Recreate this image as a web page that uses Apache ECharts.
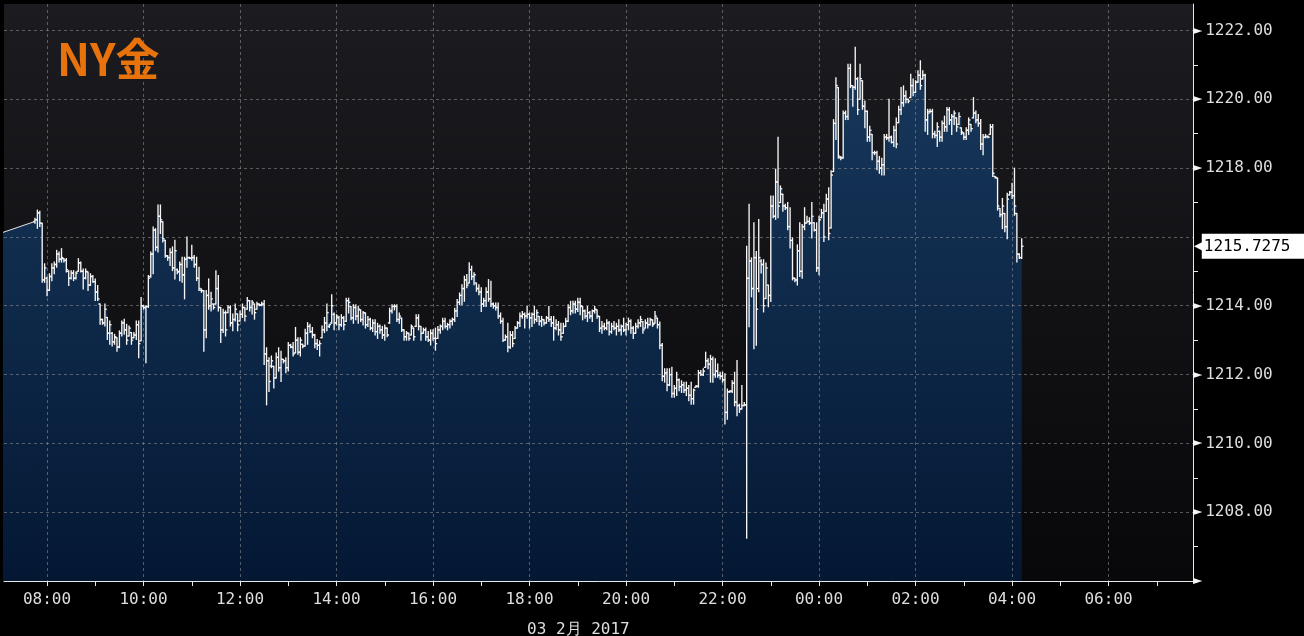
<!DOCTYPE html>
<html><head><meta charset="utf-8">
<script src="https://cdn.jsdelivr.net/npm/echarts/dist/echarts.min.js"></script>
<style>html,body{margin:0;padding:0;background:#000}#c{width:1304px;height:636px}</style>
</head><body><div id="c"></div>
<script>
const chartTitle = 'NY金';
const dateLabel = '03 2月 2017';
const firstBarMinute = 465;   // 07:45 on 02 Feb (minutes since 00:00)
const barStepMinutes = 3;
const prevPoint = [420, 1216.09];
const xLabelMinutes = [480,600,720,840,960,1080,1200,1320,1440,1560,1680,1800];
const xOddHourTicks = [540,660,780,900,1020,1140,1260,1380,1500,1620,1740,1860];
const yLabelValues = [1206,1208,1210,1212,1214,1216,1218,1220,1222];
const yMinorValues = [1207,1209,1211,1213,1215,1217,1219,1221];

const opens = [
1216.45,1216.50,1216.70,1216.40,1214.75,1214.80,1214.45,1214.85,1215.10,1215.20,
1215.50,1215.35,1215.37,1215.32,1215.00,1214.80,1214.95,1214.80,1215.00,1215.25,
1215.00,1214.80,1214.98,1214.60,1214.85,1214.70,1214.40,1214.05,1213.60,1213.50,
1213.66,1213.20,1213.20,1212.95,1213.07,1212.80,1213.20,1213.50,1213.30,1213.12,
1213.22,1213.07,1213.15,1213.45,1212.98,1214.00,1213.95,1213.98,1214.85,1215.50,
1216.20,1215.70,1216.60,1216.44,1215.90,1215.45,1215.40,1215.55,1215.10,1215.05,
1215.00,1215.20,1214.90,1215.35,1215.40,1215.38,1215.40,1215.20,1214.80,1214.45,
1214.44,1213.30,1214.30,1214.00,1214.05,1214.05,1214.50,1213.95,1213.30,1213.80,
1213.80,1213.95,1213.50,1213.60,1213.76,1213.56,1213.75,1213.95,1213.90,1214.15,
1213.95,1214.05,1213.90,1214.05,1214.02,1214.05,1212.60,1212.40,1212.25,1212.24,
1211.90,1212.50,1212.20,1212.44,1212.40,1212.20,1212.85,1212.80,1212.63,1213.00,
1212.65,1212.88,1212.83,1213.20,1213.40,1213.25,1213.15,1212.90,1212.85,1213.07,
1213.30,1213.50,1213.40,1213.50,1213.75,1213.50,1213.65,1213.45,1213.65,1213.55,
1214.15,1213.98,1213.65,1213.95,1213.70,1213.88,1213.60,1213.79,1213.45,1213.60,
1213.35,1213.50,1213.25,1213.40,1213.30,1213.15,1213.35,1213.50,1213.85,1213.98,
1213.98,1213.60,1213.64,1213.30,1213.10,1213.20,1213.15,1213.35,1213.40,1213.65,
1213.40,1213.20,1213.30,1213.10,1213.00,1213.20,1213.05,1213.05,1213.30,1213.40,
1213.55,1213.40,1213.45,1213.55,1213.60,1213.85,1214.10,1214.30,1214.50,1214.75,
1214.66,1215.05,1214.85,1214.66,1214.50,1214.40,1214.05,1214.15,1214.40,1214.20,
1214.05,1214.00,1213.95,1213.70,1213.55,1213.00,1213.10,1212.80,1213.15,1213.05,
1213.35,1213.50,1213.70,1213.75,1213.70,1213.75,1213.65,1213.75,1213.60,1213.69,
1213.55,1213.59,1213.50,1213.65,1213.60,1213.50,1213.35,1213.45,1213.30,1213.20,
1213.40,1213.55,1213.95,1213.85,1214.05,1213.90,1214.10,1213.98,1213.85,1213.70,
1213.80,1213.70,1213.85,1213.88,1213.69,1213.35,1213.40,1213.35,1213.50,1213.25,
1213.40,1213.35,1213.40,1213.30,1213.40,1213.30,1213.45,1213.55,1213.35,1213.20,
1213.40,1213.50,1213.54,1213.35,1213.50,1213.45,1213.59,1213.49,1213.64,1213.45,
1212.85,1211.95,1212.05,1211.70,1212.00,1211.45,1211.60,1211.85,1211.65,1211.70,
1211.55,1211.60,1211.40,1211.30,1211.63,1211.66,1212.05,1212.00,1212.21,1212.40,
1212.30,1212.45,1212.00,1212.10,1211.98,1211.95,1211.85,1210.90,1211.50,1211.52,
1211.75,1211.20,1211.10,1211.00,1211.10,1211.12,1214.80,1215.30,1214.50,1215.40,
1214.50,1215.30,1215.20,1214.21,1214.60,1214.30,1216.90,1216.60,1217.60,1217.00,
1217.24,1216.90,1216.85,1216.30,1215.90,1214.80,1214.75,1215.60,1215.00,1216.30,
1216.41,1216.45,1216.40,1216.41,1216.20,1215.10,1216.56,1216.70,1216.75,1217.10,
1216.26,1217.90,1219.30,1220.34,1218.30,1218.30,1219.60,1219.50,1220.90,1220.39,
1220.35,1220.60,1220.00,1220.54,1219.80,1219.65,1218.90,1218.98,1218.45,1218.45,
1218.20,1218.00,1218.10,1218.90,1218.88,1218.90,1218.75,1219.10,1219.32,1219.70,
1219.90,1220.10,1220.00,1220.05,1220.40,1220.20,1220.50,1220.70,1220.59,1220.70,
1219.40,1219.65,1219.65,1219.00,1218.95,1219.07,1218.90,1219.30,1219.20,1219.70,
1219.40,1219.50,1219.46,1219.27,1219.17,1219.02,1218.90,1219.10,1219.27,1219.46,
1219.60,1219.40,1219.30,1218.70,1218.90,1218.92,1218.98,1219.20,1217.76,1217.71,
1216.83,1216.65,1216.68,1216.30,1217.22,1217.30,1217.20,1216.68,1215.50,1215.40
];
const highs = [
1216.54,1216.78,1216.75,1216.40,1215.22,1214.83,1214.93,1215.22,1215.27,1215.61,
1215.56,1215.66,1215.37,1215.37,1215.02,1215.02,1215.02,1214.98,1215.37,1215.27,
1215.07,1215.07,1214.98,1214.93,1214.88,1214.78,1214.59,1214.05,1213.61,1214.05,
1213.66,1213.56,1213.22,1213.17,1213.07,1213.27,1213.56,1213.61,1213.46,1213.41,
1213.22,1213.22,1213.56,1213.56,1214.24,1214.00,1214.00,1214.88,1215.56,1216.29,
1216.24,1216.93,1216.93,1216.44,1215.90,1215.46,1215.66,1215.71,1215.90,1215.07,
1215.27,1215.41,1215.41,1216.00,1215.41,1215.76,1215.46,1215.41,1215.12,1214.49,
1214.44,1214.44,1214.78,1214.39,1214.05,1215.02,1214.88,1213.95,1213.90,1213.85,
1214.00,1214.00,1213.76,1214.05,1213.76,1213.85,1214.05,1213.95,1214.24,1214.15,
1214.15,1214.05,1214.10,1214.05,1214.10,1214.15,1212.78,1212.49,1212.54,1212.24,
1212.63,1212.78,1212.68,1212.44,1212.49,1212.93,1212.88,1212.93,1213.37,1213.07,
1213.07,1212.88,1213.32,1213.51,1213.46,1213.37,1213.17,1213.02,1212.98,1213.41,
1213.66,1214.05,1213.46,1214.32,1213.79,1213.74,1213.69,1213.74,1213.69,1214.22,
1214.22,1213.98,1214.03,1214.03,1213.98,1213.88,1213.83,1213.79,1213.69,1213.64,
1213.59,1213.59,1213.49,1213.44,1213.40,1213.44,1213.35,1213.93,1214.03,1214.03,
1214.03,1213.79,1213.64,1213.30,1213.25,1213.20,1213.44,1213.35,1213.74,1213.74,
1213.40,1213.35,1213.35,1213.25,1213.30,1213.30,1213.35,1213.40,1213.44,1213.64,
1213.64,1213.49,1213.59,1213.64,1213.93,1214.18,1214.37,1214.61,1214.86,1214.91,
1215.25,1215.15,1214.96,1214.66,1214.61,1214.52,1214.22,1214.52,1214.76,1214.71,
1214.08,1214.08,1214.08,1213.79,1213.64,1213.15,1213.49,1213.25,1213.25,1213.40,
1213.54,1213.79,1213.83,1213.79,1213.98,1213.79,1213.79,1213.98,1213.88,1213.69,
1213.69,1213.59,1213.69,1213.98,1213.69,1213.69,1213.59,1213.54,1213.49,1213.49,
1213.64,1214.03,1214.13,1214.13,1214.13,1214.22,1214.22,1213.98,1213.88,1213.98,
1213.83,1213.88,1213.98,1213.88,1213.69,1213.54,1213.49,1213.59,1213.54,1213.49,
1213.54,1213.49,1213.59,1213.44,1213.64,1213.49,1213.64,1213.59,1213.40,1213.49,
1213.59,1213.69,1213.54,1213.59,1213.64,1213.64,1213.59,1213.83,1213.64,1213.53,
1212.90,1212.17,1212.17,1212.17,1212.21,1211.68,1212.07,1211.87,1211.82,1211.78,
1211.78,1211.68,1211.78,1211.58,1211.68,1212.12,1212.12,1212.17,1212.65,1212.46,
1212.56,1212.51,1212.46,1212.31,1212.07,1212.07,1212.02,1211.58,1211.53,1211.82,
1212.07,1212.41,1211.14,1211.68,1211.19,1215.73,1216.95,1215.39,1216.41,1215.58,
1216.51,1215.34,1215.34,1215.24,1214.60,1217.19,1217.19,1217.97,1218.90,1217.48,
1217.24,1216.95,1217.00,1216.85,1215.97,1214.80,1215.77,1216.41,1216.36,1216.85,
1216.60,1216.56,1217.00,1216.41,1216.41,1216.60,1216.80,1216.95,1217.24,1217.43,
1217.92,1219.41,1220.63,1220.34,1218.34,1219.66,1219.66,1221.02,1221.02,1220.39,
1221.51,1220.63,1221.02,1220.54,1219.95,1219.66,1219.22,1218.98,1218.49,1218.49,
1218.34,1218.29,1218.98,1218.98,1220.00,1218.93,1219.22,1219.46,1219.80,1220.34,
1220.39,1220.24,1220.00,1220.73,1220.59,1220.54,1220.83,1221.12,1220.83,1220.73,
1219.71,1219.71,1219.71,1219.07,1219.32,1219.07,1219.37,1219.51,1219.76,1219.76,
1219.56,1219.66,1219.46,1219.61,1219.17,1219.02,1219.17,1219.46,1219.27,1220.05,
1219.66,1219.56,1219.41,1218.98,1218.98,1218.93,1219.27,1219.27,1217.76,1217.71,
1216.83,1217.12,1216.68,1217.27,1217.32,1217.56,1218.00,1216.68,1215.51,1215.95
];
const lows = [
1216.40,1216.25,1216.30,1214.68,1214.68,1214.29,1214.44,1214.73,1214.93,1215.12,
1215.27,1215.27,1215.27,1214.98,1214.59,1214.78,1214.73,1214.78,1215.00,1214.98,
1214.49,1214.78,1214.44,1214.59,1214.68,1214.15,1214.15,1213.46,1213.46,1213.41,
1213.02,1212.88,1212.83,1212.88,1212.68,1212.78,1213.12,1213.17,1212.88,1213.12,
1212.88,1213.07,1213.02,1212.49,1212.98,1213.90,1212.34,1213.95,1214.83,1214.93,
1215.61,1215.56,1216.10,1215.85,1215.41,1215.32,1215.17,1215.02,1214.78,1214.93,
1214.73,1214.68,1214.20,1215.12,1215.37,1215.32,1215.12,1214.73,1214.44,1214.39,
1212.68,1213.07,1213.90,1213.85,1213.90,1214.05,1213.85,1212.93,1213.22,1213.12,
1213.80,1213.41,1213.27,1213.56,1213.27,1213.56,1213.66,1213.56,1213.90,1213.85,
1213.76,1213.61,1213.90,1214.00,1214.00,1212.29,1211.12,1211.51,1212.20,1211.61,
1211.90,1212.10,1211.80,1212.34,1212.05,1212.10,1212.78,1212.54,1212.63,1212.59,
1212.54,1212.78,1212.83,1212.88,1213.22,1213.07,1212.78,1212.73,1212.54,1213.07,
1213.22,1213.27,1213.37,1213.49,1213.30,1213.44,1213.30,1213.40,1213.30,1213.54,
1213.79,1213.59,1213.49,1213.59,1213.49,1213.54,1213.44,1213.35,1213.40,1213.30,
1213.25,1213.15,1213.05,1213.20,1213.05,1213.00,1213.10,1213.49,1213.79,1213.88,
1213.54,1213.49,1213.25,1213.00,1213.00,1213.00,1213.15,1213.00,1213.40,1213.30,
1213.00,1213.20,1213.00,1212.96,1212.86,1213.00,1212.71,1213.05,1213.20,1213.30,
1213.35,1213.30,1213.35,1213.44,1213.54,1213.69,1214.03,1214.03,1214.13,1214.52,
1214.66,1214.76,1214.61,1214.42,1214.32,1213.83,1213.98,1213.98,1214.13,1213.98,
1213.93,1213.88,1213.64,1213.49,1212.96,1213.00,1212.66,1212.76,1212.81,1213.05,
1213.35,1213.40,1213.64,1213.35,1213.64,1213.35,1213.40,1213.49,1213.54,1213.44,
1213.40,1213.44,1213.49,1213.54,1213.40,1213.00,1213.30,1213.15,1213.00,1213.20,
1213.40,1213.54,1213.74,1213.79,1213.79,1213.83,1213.74,1213.59,1213.64,1213.54,
1213.64,1213.54,1213.79,1213.64,1213.25,1213.20,1213.30,1213.30,1213.15,1213.20,
1213.30,1213.15,1213.25,1213.15,1213.25,1213.15,1213.30,1213.20,1213.05,1213.20,
1213.35,1213.40,1213.20,1213.35,1213.35,1213.44,1213.40,1213.49,1213.35,1212.75,
1211.82,1211.78,1211.53,1211.68,1211.34,1211.34,1211.39,1211.53,1211.48,1211.48,
1211.39,1211.24,1211.14,1211.14,1211.63,1211.63,1211.97,1211.97,1212.21,1212.17,
1211.78,1211.78,1211.92,1211.92,1211.87,1211.78,1210.56,1210.70,1211.48,1211.48,
1211.09,1210.80,1210.90,1211.00,1211.09,1207.24,1213.39,1214.26,1212.75,1212.85,
1214.41,1214.95,1213.82,1214.21,1213.97,1214.12,1216.56,1216.51,1216.56,1217.00,
1216.75,1216.80,1216.21,1215.68,1214.75,1214.70,1214.60,1214.85,1214.80,1216.21,
1216.41,1216.36,1215.97,1216.17,1215.00,1214.90,1216.56,1215.87,1216.75,1215.92,
1216.26,1217.90,1218.83,1218.29,1218.24,1218.29,1219.41,1219.41,1220.34,1219.80,
1220.29,1219.56,1220.00,1219.71,1219.17,1218.78,1218.78,1218.24,1218.39,1217.95,
1217.85,1217.80,1217.80,1218.83,1218.78,1218.73,1218.63,1218.59,1219.32,1219.56,
1219.80,1219.90,1219.90,1220.05,1220.10,1220.20,1220.49,1220.29,1220.59,1219.07,
1218.98,1219.61,1218.88,1218.88,1218.63,1218.78,1218.78,1219.07,1219.07,1219.27,
1218.98,1219.27,1219.07,1219.27,1218.98,1218.83,1218.83,1218.98,1219.07,1219.46,
1219.32,1219.22,1218.54,1218.39,1218.88,1218.88,1218.98,1217.76,1217.71,1216.78,
1216.59,1216.24,1216.15,1215.95,1217.22,1217.12,1216.63,1215.27,1215.37,1215.37
];
const closes = [
1216.50,1216.70,1216.40,1214.75,1215.10,1214.45,1214.85,1215.10,1215.20,1215.50,
1215.35,1215.40,1215.32,1215.05,1214.80,1214.95,1214.80,1214.95,1215.25,1215.00,
1214.80,1215.00,1214.60,1214.85,1214.70,1214.40,1214.20,1213.60,1213.50,1213.90,
1213.20,1213.45,1212.95,1213.10,1212.80,1213.20,1213.50,1213.30,1213.00,1213.35,
1213.00,1213.15,1213.45,1212.90,1214.00,1213.95,1213.98,1214.80,1215.50,1216.20,
1215.70,1216.60,1216.50,1215.95,1215.45,1215.40,1215.55,1215.10,1215.60,1214.98,
1215.20,1214.90,1215.35,1215.40,1215.38,1215.40,1215.20,1214.80,1214.50,1214.44,
1213.30,1214.30,1214.00,1214.20,1213.95,1214.50,1213.95,1213.30,1213.80,1213.30,
1213.95,1213.50,1213.60,1213.90,1213.45,1213.75,1213.95,1213.70,1214.15,1213.95,
1214.10,1213.80,1214.05,1214.02,1214.05,1212.60,1212.40,1211.80,1212.40,1211.90,
1212.50,1212.20,1212.45,1212.40,1212.20,1212.85,1212.80,1212.60,1213.00,1212.65,
1213.00,1212.82,1213.20,1213.40,1213.25,1213.15,1212.90,1212.85,1212.90,1213.30,
1213.50,1213.80,1213.45,1214.00,1213.50,1213.70,1213.45,1213.65,1213.45,1214.15,
1214.10,1213.65,1213.95,1213.70,1213.90,1213.60,1213.80,1213.45,1213.60,1213.35,
1213.50,1213.25,1213.40,1213.30,1213.15,1213.35,1213.15,1213.85,1213.98,1213.98,
1213.60,1213.70,1213.30,1213.10,1213.20,1213.05,1213.40,1213.10,1213.65,1213.40,
1213.20,1213.30,1213.10,1213.00,1213.20,1213.05,1212.90,1213.30,1213.40,1213.55,
1213.40,1213.45,1213.55,1213.60,1213.85,1214.10,1214.30,1214.50,1214.75,1214.60,
1215.05,1214.85,1214.90,1214.50,1214.40,1214.05,1214.15,1214.40,1214.20,1214.05,
1214.00,1213.95,1213.70,1213.55,1213.00,1213.10,1212.80,1213.15,1212.90,1213.35,
1213.50,1213.70,1213.75,1213.70,1213.75,1213.65,1213.75,1213.60,1213.80,1213.55,
1213.60,1213.50,1213.65,1213.60,1213.50,1213.35,1213.45,1213.30,1213.10,1213.40,
1213.55,1213.95,1213.85,1214.05,1213.90,1214.10,1214.00,1213.85,1213.70,1213.80,
1213.70,1213.85,1213.90,1213.70,1213.35,1213.40,1213.35,1213.50,1213.25,1213.40,
1213.35,1213.40,1213.30,1213.40,1213.30,1213.45,1213.55,1213.35,1213.20,1213.40,
1213.50,1213.60,1213.30,1213.50,1213.45,1213.60,1213.45,1213.70,1213.45,1212.85,
1211.95,1212.05,1211.70,1212.00,1211.45,1211.60,1211.85,1211.65,1211.70,1211.55,
1211.60,1211.40,1211.30,1211.55,1211.66,1212.05,1212.00,1212.10,1212.40,1212.30,
1212.45,1212.00,1212.10,1211.98,1211.95,1211.85,1210.90,1211.50,1211.52,1211.75,
1211.20,1211.10,1211.00,1211.10,1211.12,1214.80,1215.30,1214.50,1215.40,1213.90,
1215.40,1215.20,1214.00,1215.10,1214.30,1216.90,1216.60,1217.60,1216.90,1217.40,
1216.90,1216.85,1216.30,1215.90,1214.80,1214.75,1215.60,1215.00,1216.30,1216.40,
1216.45,1216.40,1216.60,1216.20,1215.10,1216.50,1216.70,1216.00,1217.10,1216.10,
1217.80,1219.30,1220.40,1218.35,1218.30,1219.60,1219.50,1220.90,1220.40,1220.35,
1220.60,1219.70,1220.60,1219.80,1219.65,1218.90,1219.10,1218.45,1218.45,1218.20,
1218.00,1218.10,1218.90,1218.88,1218.90,1218.75,1219.10,1218.70,1219.70,1219.90,
1220.10,1220.00,1219.95,1220.40,1220.20,1220.50,1220.70,1220.40,1220.70,1219.40,
1219.60,1219.65,1219.00,1218.95,1219.20,1218.90,1219.30,1219.20,1219.70,1219.40,
1219.50,1219.60,1219.20,1219.50,1219.05,1218.90,1219.10,1219.40,1219.15,1219.60,
1219.40,1219.30,1218.70,1218.90,1218.92,1218.90,1219.20,1217.85,1217.73,1216.90,
1216.65,1216.90,1216.30,1217.10,1217.30,1217.20,1216.90,1215.50,1215.40,1215.7275
];

const n = Math.min(opens.length, highs.length, lows.length, closes.length);
const times = [];
for (let i = 0; i < n; i++) times.push(firstBarMinute + i * barStepMinutes);
const ohlcData = [];
const closeData = [];
for (let i = 0; i < n; i++) {
  ohlcData.push([times[i], opens[i], highs[i], lows[i], closes[i]]);
  closeData.push([times[i], closes[i]]);
}
const lastClose = closes[n - 1];

function pad(v) { return (v < 10 ? '0' : '') + v; }
function fmtTime(v) { const m = Math.round(v); return pad(Math.floor(m / 60) % 24) + ':' + pad(m % 60); }

const chart = echarts.init(document.getElementById('c'));
const areaGrad = new echarts.graphic.LinearGradient(0, 40, 0, 581, [
  { offset: 0, color: '#18395d' },
  { offset: 1, color: '#041834' }
], true);
const gridBg = new echarts.graphic.LinearGradient(0, 0, 0, 1, [
  { offset: 0, color: '#1c1c20' },
  { offset: 1, color: '#08080b' }
]);
const labelFont = "'DejaVu Sans Mono', 'Liberation Mono', monospace";
const splitStyle = { color: 'rgba(150,150,150,0.55)', width: 1, type: [3, 3] };

function renderOHLC(params, api) {
  const t = api.value(0);
  const pO = api.coord([t, api.value(1)]);
  const pH = api.coord([t, api.value(2)]);
  const pL = api.coord([t, api.value(3)]);
  const pC = api.coord([t, api.value(4)]);
  const x = pO[0];
  const w = 1.8;
  const style = { stroke: '#f6f6f6', lineWidth: 1.35 };
  return {
    type: 'group',
    children: [
      { type: 'line', shape: { x1: x, y1: pH[1] - 0.5, x2: x, y2: pL[1] + 0.5 }, style: style },
      { type: 'line', shape: { x1: x - w, y1: pO[1], x2: x, y2: pO[1] }, style: style },
      { type: 'line', shape: { x1: x, y1: pC[1], x2: x + w, y2: pC[1] }, style: style }
    ]
  };
}

chart.setOption({
  animation: false,
  backgroundColor: '#000',
  title: [
    { text: chartTitle, left: 52, top: 32,
      textStyle: { color: '#e8720c', fontSize: 44, fontWeight: 'bold', fontFamily: "'Noto Sans CJK JP', sans-serif" } },
    { text: dateLabel, left: 522, top: 617,
      textStyle: { color: '#dedede', fontSize: 16, fontWeight: 'normal', fontFamily: labelFont } }
  ],
  grid: { left: 4, right: 111, top: 4, bottom: 55, show: true, backgroundColor: gridBg, borderWidth: 0 },
  xAxis: [
    { type: 'value', min: 426.5, max: 1905, position: 'bottom', z: 2,
      axisLine: { show: true, lineStyle: { color: '#e8e8e8', width: 1 } },
      axisTick: { show: true, customValues: xLabelMinutes, length: 5, lineStyle: { color: '#e8e8e8' } },
      axisLabel: { customValues: xLabelMinutes, formatter: fmtTime, color: '#dedede', fontSize: 16, fontFamily: labelFont, margin: 11 },
      splitLine: { show: true, lineStyle: splitStyle } },
    { type: 'value', min: 426.5, max: 1905, position: 'bottom', z: 2,
      axisLine: { show: false },
      axisTick: { show: true, customValues: xOddHourTicks, length: 5, lineStyle: { color: '#e8e8e8' } },
      axisLabel: { show: false },
      splitLine: { show: false } }
  ],
  yAxis: [
    { type: 'value', position: 'right', min: 1206, max: 1222.77, interval: 2, z: 2,
      axisLine: { show: true, lineStyle: { color: '#e8e8e8', width: 1 } },
      axisTick: { show: false, customValues: yLabelValues },
      axisLabel: {
        customValues: yLabelValues, margin: 0, color: '#dedede', fontSize: 16, fontFamily: labelFont,
        formatter: function (v) {
          if (Math.abs(v - 1216) < 1e-6) return '';
          if (Math.abs(v - 1206) < 1e-6) return '{t|►}';
          if (Math.abs(v - Math.round(v)) > 1e-6) return '';
          return '{t|►}' + v.toFixed(2);
        },
        rich: { t: { color: '#f4f4f4', fontSize: 12, fontFamily: "'DejaVu Sans', sans-serif", padding: [0, 3, 0, 0] } }
      },
      splitLine: { show: true, lineStyle: splitStyle } },
    { type: 'value', position: 'right', min: 1206, max: 1222.77, z: 2,
      axisLine: { show: false },
      axisTick: { show: true, customValues: yMinorValues, length: 5, lineStyle: { color: '#e8e8e8' } },
      axisLabel: { show: false },
      splitLine: { show: false } }
  ],
  series: [
    { type: 'line', name: 'pre', xAxisIndex: 0, yAxisIndex: 0, z: 1, silent: true,
      data: [prevPoint, [times[0], opens[0]]], symbol: 'none',
      lineStyle: { color: '#e6e6e6', width: 1 },
      areaStyle: { color: areaGrad, origin: 'start', opacity: 1 } },
    { type: 'line', name: 'area', xAxisIndex: 0, yAxisIndex: 0, z: 1, silent: true,
      data: closeData, step: 'end', symbol: 'none',
      lineStyle: { width: 0 },
      areaStyle: { color: areaGrad, origin: 'start', opacity: 1 } },
    { type: 'custom', name: 'NY金', xAxisIndex: 0, yAxisIndex: 0, z: 3, silent: true,
      data: ohlcData, renderItem: renderOHLC, encode: { x: 0, y: [1, 2, 3, 4] }, clip: true },
    { type: 'line', name: 'last', xAxisIndex: 0, yAxisIndex: 0, z: 5, silent: true,
      data: [[times[n - 1], lastClose]], symbol: 'none', lineStyle: { width: 0 },
      markLine: {
        silent: true, symbol: ['none', 'none'],
        lineStyle: { color: 'rgba(0,0,0,0)', width: 0, type: 'solid' },
        data: [{ yAxis: lastClose }],
        label: {
          show: true, position: 'end', distance: 1,
          formatter: function () { return '{a|◀}{b|' + lastClose.toFixed(4) + '}'; },
          rich: {
            a: { color: '#ffffff', fontSize: 14, fontFamily: "'DejaVu Sans', sans-serif", padding: [0, -3, 0, 0] },
            b: { color: '#000000', backgroundColor: '#ffffff', fontSize: 16, fontFamily: labelFont, padding: [5, 14, 4, 2] }
          }
        }
      } }
  ]
});
</script>
</body></html>
